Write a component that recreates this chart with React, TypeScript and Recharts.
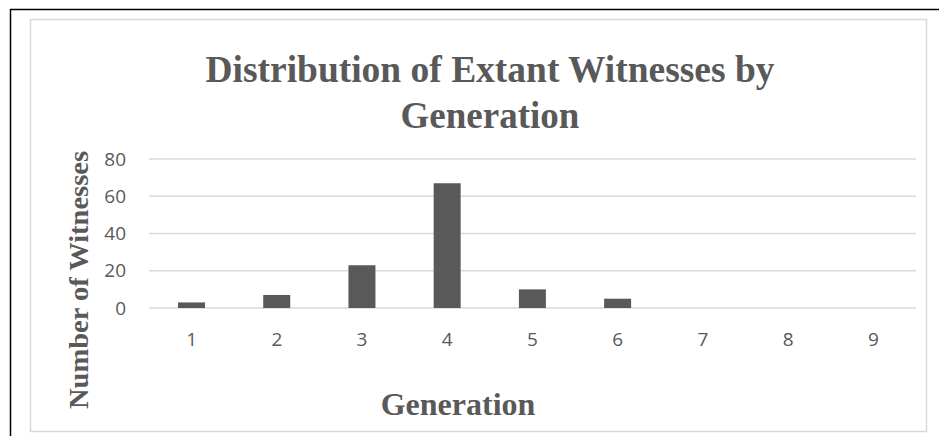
import { Bar, BarChart, CartesianGrid, XAxis, YAxis } from "recharts";

const generations = ["1", "2", "3", "4", "5", "6", "7", "8", "9"];
const witnessCounts = [3, 7, 23, 67, 10, 5, 0, 0, 0];
const yTicks = [0, 20, 40, 60, 80];

const data = generations.map((g, i) => ({ generation: g, witnesses: witnessCounts[i] }));

const GREY = "#595959";
const SERIF = "'Liberation Serif', 'Times New Roman', serif";
const SANS = "'Open Sans', Calibri, sans-serif";

const App = () => {
  return (
    <div style={{ position: "absolute", left: 0, top: 0, width: 939, height: 436, background: "#fff" }}>
      <BarChart
        width={939}
        height={436}
        data={data}
        margin={{ top: 159, right: 23, left: 0, bottom: 0 }}
        barSize={27}
      >
        <CartesianGrid horizontal vertical={false} stroke="#d9d9d9" strokeWidth={1.5} />
        <XAxis
          dataKey="generation"
          height={128}
          axisLine={false}
          tickLine={false}
          tickSize={0}
          tickMargin={25}
          tick={{ fill: GREY, fontSize: 19, fontFamily: SANS }}
        />
        <YAxis
          width={149}
          domain={[0, 80]}
          ticks={yTicks}
          axisLine={false}
          tickLine={false}
          tickSize={0}
          tickMargin={23}
          tick={{ fill: GREY, fontSize: 19, fontFamily: SANS }}
        />
        <Bar dataKey="witnesses" fill={GREY} isAnimationActive={false} />
      </BarChart>
      <svg
        width={939}
        height={436}
        style={{ position: "absolute", left: 0, top: 0, pointerEvents: "none" }}
      >
        <rect x={30.5} y={19.5} width={896} height={412} fill="none" stroke="#d9d9d9" strokeWidth={1.5} />
        <line x1={10} y1={9.5} x2={939} y2={9.5} stroke="#000" strokeWidth={1.5} />
        <line x1={10.5} y1={9} x2={10.5} y2={436} stroke="#000" strokeWidth={1.5} />
        <g fill={GREY} fontFamily={SERIF} fontWeight="bold" textAnchor="middle">
          <text x={490} y={81.5} fontSize={37} textLength={569} lengthAdjust="spacingAndGlyphs">
            Distribution of Extant Witnesses by
          </text>
          <text x={490} y={127.7} fontSize={37}>
            Generation
          </text>
          <text x={458} y={415} fontSize={32}>
            Generation
          </text>
          <text
            x={88}
            y={280}
            fontSize={27}
            transform="rotate(-90 88 280)"
            textLength={258}
            lengthAdjust="spacingAndGlyphs"
          >
            Number of Witnesses
          </text>
        </g>
      </svg>
    </div>
  );
};

export default App;
